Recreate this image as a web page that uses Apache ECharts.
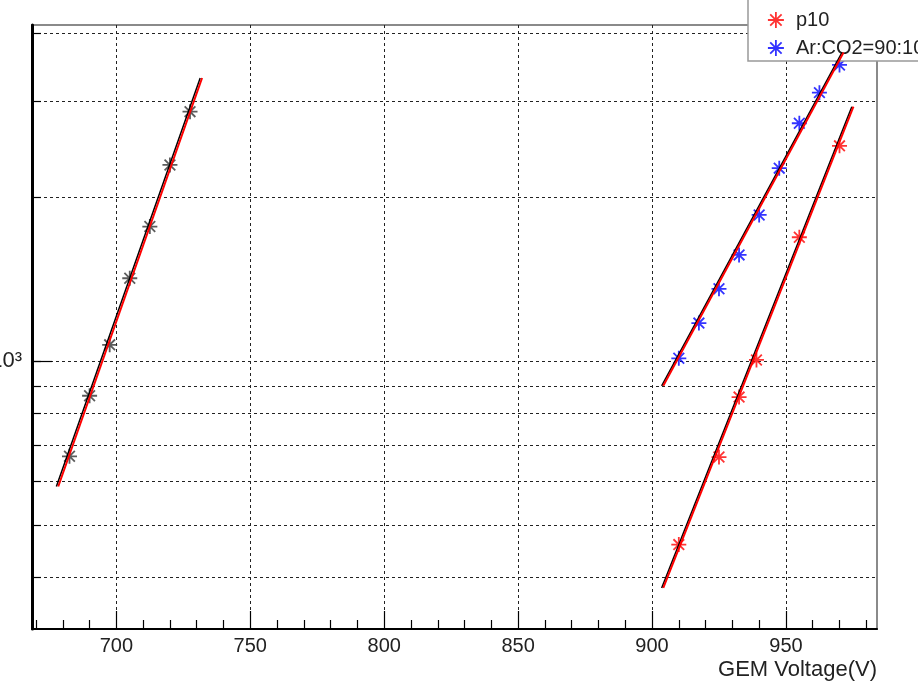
<!DOCTYPE html>
<html><head><meta charset="utf-8">
<script src="https://cdn.jsdelivr.net/npm/echarts@6/dist/echarts.min.js"></script>
<style>html,body{margin:0;padding:0;background:#fff}#c{width:918px;height:684px}</style>
</head><body><div id="c"></div>
<script>
// ---- tick values ----
const xMajorTicks = [700, 750, 800, 850, 900, 950];
const xMinorTicks = [670, 680, 690, 710, 720, 730, 740, 760, 770, 780, 790, 810, 820, 830, 840,
                     860, 870, 880, 890, 910, 920, 930, 940, 960, 970, 980];
const yTicks = [400, 500, 600, 700, 800, 900, 1000, 2000, 3000, 4000];
const yLabelTicks = [1000];

// ---- data (GEM voltage vs gain) ----
const blackVoltage = [682.5, 690, 697.5, 705, 712.5, 720, 727.5];
const blackGain    = [668, 863, 1070, 1418, 1764, 2289, 2867];
const arVoltage = [910, 917.5, 925, 932.5, 940, 947.5, 955, 962.5, 970];
const arGain    = [1011, 1173, 1356, 1565, 1853, 2258, 2730, 3107, 3493];
const p10Voltage = [910, 925, 932.5, 939, 955, 970];
const p10Gain    = [460, 666, 858, 1004, 1686, 2481];

// ---- fit line end points ----
const fitLeftV = [678.3, 732];     const fitLeftG = [588, 3305];
const fitLeftBlackV = [677.6, 731.3];
const fitArV = [904.2, 971.5];     const fitArG = [900, 3680];
const fitArBlackV = [903.6, 970.9];
const fitP10V = [904.2, 975.2];    const fitP10G = [383, 2928];
const fitP10BlackV = [903.6, 974.6];

const pts = (xs, ys) => xs.map((x, i) => [x, ys[i]]);
const STAR = 'path://M7,0L7,14M0,7L14,7M2,2L12,12M2,12L12,2';
const FONT = 'Liberation Sans';

function fit(xs, ys, color, w, z) {
  return { type: 'line', data: pts(xs, ys), showSymbol: false, symbol: 'none', silent: true,
    lineStyle: { color: color, width: w }, z: z, animation: false };
}
function stars(name, xs, ys, color) {
  return { type: 'scatter', name: name, data: pts(xs, ys), symbol: STAR, symbolSize: 15,
    itemStyle: { color: 'transparent', borderColor: color, borderWidth: 1.8 }, z: 3, silent: true };
}

const chart = echarts.init(document.getElementById('c'));
chart.setOption({
  animation: false,
  backgroundColor: '#fff',
  grid: { left: 32, right: 41, top: 25, bottom: 55, outerBoundsMode: 'none', containLabel: false,
    show: true, borderColor: '#8a8a8a', borderWidth: 2, backgroundColor: 'transparent' },
  legend: {
    data: ['p10', 'Ar:CO2=90:10'], orient: 'vertical', left: 748, top: -12,
    padding: [22, 20, 3, 19], itemWidth: 16, itemHeight: 16, itemGap: 8,
    backgroundColor: '#fff', borderColor: '#999', borderWidth: 1.5, selectedMode: false,
    itemStyle: { borderWidth: 1.8 },
    textStyle: { fontSize: 20, color: '#222', fontFamily: FONT, padding: [0, 0, 0, 7] }
  },
  xAxis: [{
    type: 'value', min: 668.5, max: 984, position: 'bottom',
    axisLine: { onZero: false, lineStyle: { color: '#000', width: 2 } },
    axisTick: { inside: true, length: 18, customValues: xMajorTicks, lineStyle: { color: '#000', width: 1.2 } },
    axisLabel: { customValues: xMajorTicks, fontSize: 20, color: '#222', fontFamily: FONT, margin: 7 },
    splitLine: { show: true, lineStyle: { color: '#222', width: 1, type: [3, 3] } },
    name: 'GEM Voltage(V)', nameLocation: 'end', nameGap: 0,
    nameTextStyle: { fontSize: 22, color: '#222', fontFamily: FONT, align: 'right', verticalAlign: 'top', padding: [30, 0, 0, 0] }
  }, {
    type: 'value', min: 668.5, max: 984, position: 'bottom',
    axisLine: { show: false },
    axisTick: { inside: true, length: 9, customValues: xMinorTicks, lineStyle: { color: '#000', width: 1.2 } },
    axisLabel: { show: false }, splitLine: { show: false }
  }],
  yAxis: [{
    type: 'log', logBase: 10, min: 322, max: 4135, position: 'left',
    axisLine: { onZero: false, lineStyle: { color: '#000', width: 3 } },
    axisTick: { inside: true, length: 9, customValues: yTicks, lineStyle: { color: '#000', width: 1.2 } },
    axisLabel: { customValues: yLabelTicks, formatter: () => '10³', fontSize: 22, color: '#222', fontFamily: FONT, margin: 10 },
    splitLine: { show: true, lineStyle: { color: '#222', width: 1, type: [3, 3] } }
  }, {
    type: 'log', logBase: 10, min: 322, max: 4135, position: 'left',
    axisLine: { show: false },
    axisTick: { inside: true, length: 20, customValues: yLabelTicks, lineStyle: { color: '#000', width: 1.2 } },
    axisLabel: { show: false }, splitLine: { show: false }
  }],
  series: [
    fit(fitLeftBlackV, fitLeftG, '#000', 1.5, 4),
    fit(fitLeftV, fitLeftG, '#ff0000', 2, 5),
    fit(fitArBlackV, fitArG, '#000', 1.5, 4),
    fit(fitArV, fitArG, '#ff0000', 2, 5),
    fit(fitP10BlackV, fitP10G, '#000', 1.5, 4),
    fit(fitP10V, fitP10G, '#ff0000', 2, 5),
    stars('black', blackVoltage, blackGain, '#333'),
    stars('Ar:CO2=90:10', arVoltage, arGain, '#0000ff'),
    stars('p10', p10Voltage, p10Gain, '#ff0000')
  ]
});
</script></body></html>
